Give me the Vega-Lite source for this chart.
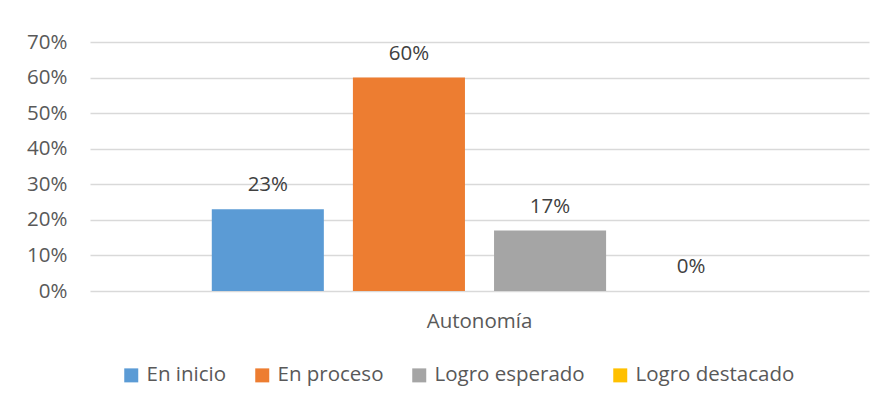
{
  "$schema": "https://vega.github.io/schema/vega-lite/v6.json",
  "width": 779,
  "height": 249,
  "autosize": "none",
  "padding": {"left": 90, "top": 42, "right": 16, "bottom": 114},
  "background": "white",
  "data": {"values": [
    {"dimension": "Autonomía", "nivel": "En inicio", "valor": 0.23},
    {"dimension": "Autonomía", "nivel": "En proceso", "valor": 0.60},
    {"dimension": "Autonomía", "nivel": "Logro esperado", "valor": 0.17},
    {"dimension": "Autonomía", "nivel": "Logro destacado", "valor": 0.0}
  ]},
  "encoding": {
    "x": {"field": "dimension", "type": "nominal", "title": null,
      "scale": {"paddingInner": 0, "paddingOuter": 0.19},
      "axis": {"labelAngle": 0, "domain": false, "ticks": false, "labelPadding": 20, "labelFontSize": 20.5, "labelColor": "#595959", "labelFont": "Open Sans"}},
    "xOffset": {"field": "nivel", "type": "nominal",
      "sort": ["En inicio", "En proceso", "Logro esperado", "Logro destacado"],
      "scale": {"paddingInner": 0.206, "paddingOuter": 0.103}},
    "y": {"field": "valor", "type": "quantitative", "title": null,
      "scale": {"domain": [0, 0.7]},
      "axis": {"format": ".0%", "values": [0, 0.1, 0.2, 0.3, 0.4, 0.5, 0.6, 0.7], "labelOverlap": false, "domain": false, "ticks": false, "labelPadding": 23, "labelFontSize": 20.5, "labelColor": "#595959", "labelFont": "Open Sans", "gridColor": "#D9D9D9", "gridWidth": 1.5}}
  },
  "layer": [
    {
      "mark": {"type": "bar"},
      "encoding": {
        "color": {"field": "nivel", "type": "nominal",
          "sort": ["En inicio", "En proceso", "Logro esperado", "Logro destacado"],
          "scale": {"domain": ["En inicio", "En proceso", "Logro esperado", "Logro destacado"], "range": ["#5B9BD5", "#ED7D31", "#A5A5A5", "#FFC000"]},
          "legend": {"title": null, "orient": "none", "legendX": 31, "legendY": 323, "direction": "horizontal", "symbolType": "square", "symbolSize": 196, "symbolStrokeWidth": 0, "labelFontSize": 20.5, "labelColor": "#595959", "labelFont": "Open Sans", "columnPadding": 25, "labelOffset": 5}
        }
      }
    },
    {
      "mark": {"type": "text", "baseline": "bottom", "dy": -14, "fontSize": 20.5, "color": "#404040", "font": "Open Sans"},
      "encoding": {
        "text": {"field": "valor", "type": "quantitative", "format": ".0%"}
      }
    }
  ],
  "config": {"view": {"stroke": null}}
}
